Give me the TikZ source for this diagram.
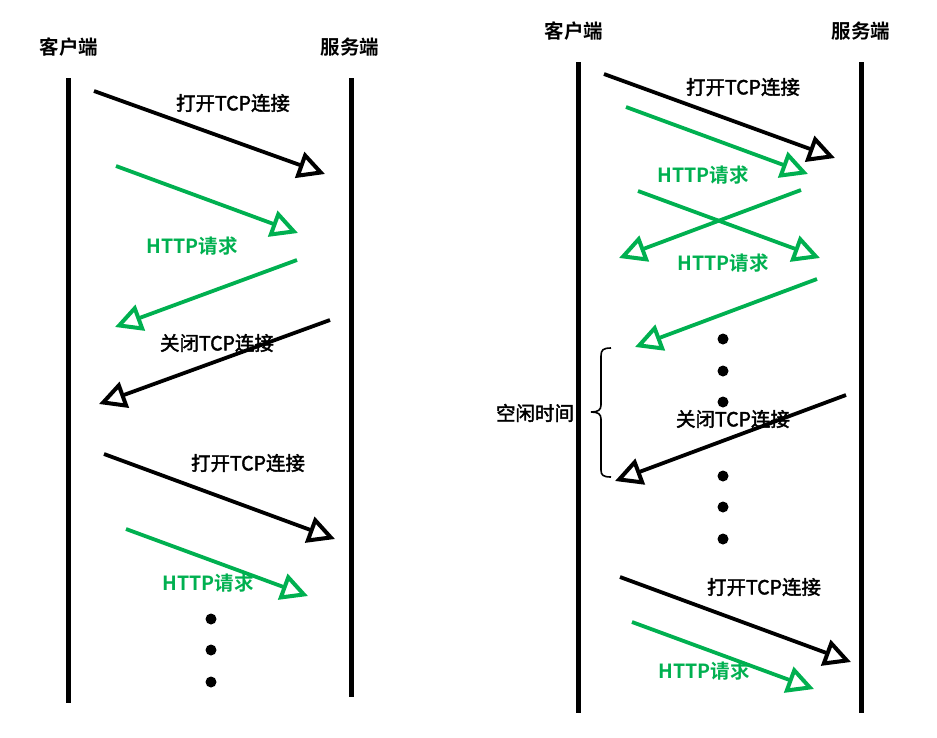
\documentclass[tikz,border=0pt]{standalone}
\usepackage{fontspec}
\newfontfamily\cjk{Noto Sans CJK SC}[FakeBold=2]
\newfontfamily\cjkb{Noto Sans CJK SC}[BoldFont={* Bold}]
\usetikzlibrary{arrows.meta}
\definecolor{hgreen}{RGB}{0,176,80}
\tikzset{
  life/.style={line width=5pt},
  msg/.style={line width=3.8pt,-{Triangle[open,length=27pt,width=27pt,line width=4pt]}},
  blk/.style={msg,black},
  grn/.style={msg,hgreen},
  lbl/.style={font=\cjk\fontsize{19.5}{22}\selectfont,inner sep=0pt},
  hlbl/.style={font=\cjkb\bfseries\fontsize{19.5}{22}\selectfont,inner sep=0pt,text=hgreen},
  head/.style={font=\cjkb\bfseries\fontsize{19.5}{22}\selectfont,inner sep=0pt},
  dot/.style={circle,fill=black,inner sep=0pt,minimum size=11pt},
}
\begin{document}
\begin{tikzpicture}[x=1pt,y=-1pt]
\useasboundingbox (0,0) rectangle (937,737);
% ---------- left diagram ----------
\node[head] (lc) at (69,47) {客户端};
\node[head] (ls) at (350,47) {服务端};
\coordinate (lcT) at (68,78); \coordinate (lcB) at (68,703);
\coordinate (lsT) at (351,78); \coordinate (lsB) at (351,697);
\draw[life] (lcT) -- (lcB);
\draw[life] (lsT) -- (lsB);

\coordinate (a1s) at (94,91);   \coordinate (a1e) at (325,174);
\coordinate (a2s) at (116,166); \coordinate (a2e) at (298,233);
\coordinate (a3s) at (297,260); \coordinate (a3e) at (115,327);
\coordinate (a4s) at (330,320); \coordinate (a4e) at (99,404);
\coordinate (a5s) at (104,454); \coordinate (a5e) at (335,539);
\coordinate (a6s) at (126,529); \coordinate (a6e) at (308,596);
\draw[blk] (a1s) -- (a1e);
\draw[grn] (a2s) -- (a2e);
\draw[grn] (a3s) -- (a3e);
\draw[blk] (a4s) -- (a4e);
\draw[blk] (a5s) -- (a5e);
\draw[grn] (a6s) -- (a6e);
\node[lbl] (t1) at (233,103) {打开TCP连接};
\node[hlbl] (t2) at (192,246) {HTTP请求};
\node[lbl] (t3) at (217,343) {关闭TCP连接};
\node[lbl] (t4) at (248,463) {打开TCP连接};
\node[hlbl] (t5) at (208,583) {HTTP请求};
\node[dot] (d1) at (211,619) {};
\node[dot] (d2) at (211,650) {};
\node[dot] (d3) at (211,682) {};

% ---------- right diagram ----------
\node[head] (rc) at (574,31) {客户端};
\node[head] (rs) at (861,31) {服务端};
\coordinate (rcT) at (578,62); \coordinate (rcB) at (578,713);
\coordinate (rsT) at (861,62); \coordinate (rsB) at (861,713);
\draw[life] (rcT) -- (rcB);
\draw[life] (rsT) -- (rsB);

\coordinate (b1s) at (604,74);  \coordinate (b1e) at (835,158);
\coordinate (b2s) at (626,107); \coordinate (b2e) at (808,174);
\coordinate (b3s) at (638,191); \coordinate (b3e) at (820,258);
\coordinate (b4s) at (801,190); \coordinate (b4e) at (619,258);
\coordinate (b5s) at (817,279); \coordinate (b5e) at (635,347);
\coordinate (b6s) at (846,395); \coordinate (b6e) at (615,481);
\coordinate (b7s) at (620,577); \coordinate (b7e) at (851,662);
\coordinate (b8s) at (632,622); \coordinate (b8e) at (814,689);
\draw[blk] (b1s) -- (b1e);
\draw[grn] (b2s) -- (b2e);
\draw[grn] (b3s) -- (b3e);
\draw[grn] (b4s) -- (b4e);
\draw[grn] (b5s) -- (b5e);
\draw[blk] (b6s) -- (b6e);
\draw[blk] (b7s) -- (b7e);
\draw[grn] (b8s) -- (b8e);
\node[lbl] (u1) at (743,87) {打开TCP连接};
\node[hlbl] (u2) at (703,175) {HTTP请求};
\node[hlbl] (u3) at (723,263) {HTTP请求};
\node[lbl] (u4) at (733,419) {关闭TCP连接};
\node[lbl] (u5) at (764,587) {打开TCP连接};
\node[hlbl] (u6) at (704,671) {HTTP请求};
\node[dot] (e1) at (723,339) {};
\node[dot] (e2) at (723,371) {};
\node[dot] (e3) at (723,402) {};
\node[dot] (e4) at (723,476) {};
\node[dot] (e5) at (723,507) {};
\node[dot] (e6) at (723,539) {};

\coordinate (brT) at (611,348); \coordinate (brB) at (611,477);
\coordinate (brM) at (591,412);
\draw[line width=1.6pt] (brT) .. controls (603,348) and (601,350) .. (601,356)
  -- (601,405) .. controls (601,410) and (598,412) .. (brM)
  .. controls (598,412) and (601,414) .. (601,419)
  -- (601,470) .. controls (601,475) and (603,477) .. (brB);
\node[lbl] (idle) at (535,413) {空闲时间};
\end{tikzpicture}
\end{document}
